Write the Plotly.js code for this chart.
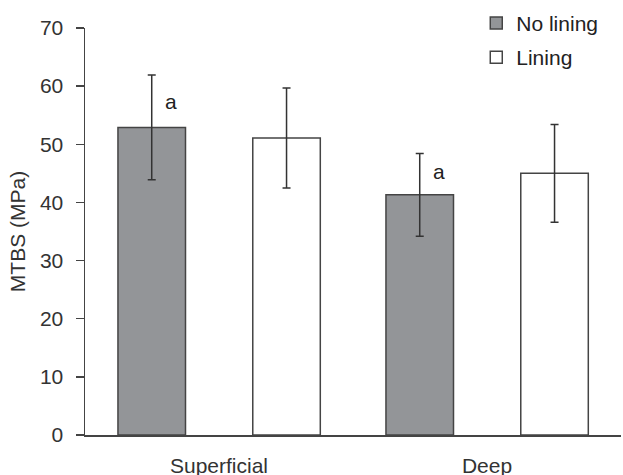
<!DOCTYPE html>
<html>
<head>
<meta charset="utf-8">
<script src="https://cdn.plot.ly/plotly-3.0.1.min.js"></script>
<style>html,body{margin:0;padding:0;background:#fff;}#chart{width:623px;height:475px;}</style>
</head>
<body>
<div id="chart"></div>
<script>
var categories = ['Superficial', 'Deep'];
var seriesNames = ['No lining', 'Lining'];
var noLining = [52.9, 41.3];
var noLiningErr = [9.0, 7.1];
var lining = [51.1, 45.0];
var liningErr = [8.6, 8.4];
var yTicks = [0, 10, 20, 30, 40, 50, 60, 70];
var annText = ['a', 'a'];
var annX = [-0.178, 0.822];
var annY = [57.4, 45.3];

var font = 'Liberation Sans, Arial, sans-serif';
var dark = '#444444';
var fs = 21;

var traces = [
  {
    type: 'bar', name: seriesNames[0], x: categories, y: noLining,
    width: 0.252, offset: -0.377, legendgroup: 'g1',
    marker: {color: '#939598', line: {color: dark, width: 1.5}},
    error_y: {type: 'data', array: noLiningErr, visible: true, color: '#333', thickness: 1.5, width: 4}
  },
  {
    type: 'bar', name: seriesNames[1], x: categories, y: lining,
    width: 0.252, offset: 0.126, legendgroup: 'g2',
    marker: {color: '#ffffff', line: {color: dark, width: 1.5}},
    error_y: {type: 'data', array: liningErr, visible: true, color: '#333', thickness: 1.5, width: 4}
  }
];

var annotations = annText.map(function (t, i) {
  return {x: annX[i], y: annY[i], xref: 'x', yref: 'y', text: t, showarrow: false,
    font: {family: font, size: fs, color: '#222'}};
});

var layout = {
  width: 623, height: 475,
  margin: {l: 85, r: 2, t: 28, b: 40, pad: 0},
  paper_bgcolor: '#fff', plot_bgcolor: '#fff',
  font: {family: font, size: fs, color: '#333'},
  showlegend: true,
  legend: {x: 0.73, y: 1.062, xanchor: 'left', yanchor: 'top', traceorder: 'grouped',
    tracegroupgap: 4, font: {family: font, size: fs, color: '#222'}, bgcolor: 'rgba(0,0,0,0)', itemwidth: 30},
  xaxis: {
    type: 'category', range: [-0.5, 1.5], showline: true, linecolor: dark, linewidth: 1.5,
    ticks: '', showgrid: false, zeroline: false, ticklabelstandoff: 11,
    tickfont: {family: font, size: fs, color: '#333'}
  },
  yaxis: {
    range: [0, 70], tickvals: yTicks, showline: true, linecolor: dark, linewidth: 1.5,
    ticks: 'outside', ticklen: 8, tickwidth: 1.5, tickcolor: dark, showgrid: false, zeroline: false,
    ticklabelstandoff: 8,
    tickfont: {family: font, size: fs, color: '#333'},
    title: {text: 'MTBS (MPa)', font: {family: font, size: fs, color: '#333'}, standoff: 8}
  },
  annotations: annotations
};

Plotly.newPlot('chart', traces, layout, {displayModeBar: false, staticPlot: true});
</script>
</body>
</html>
